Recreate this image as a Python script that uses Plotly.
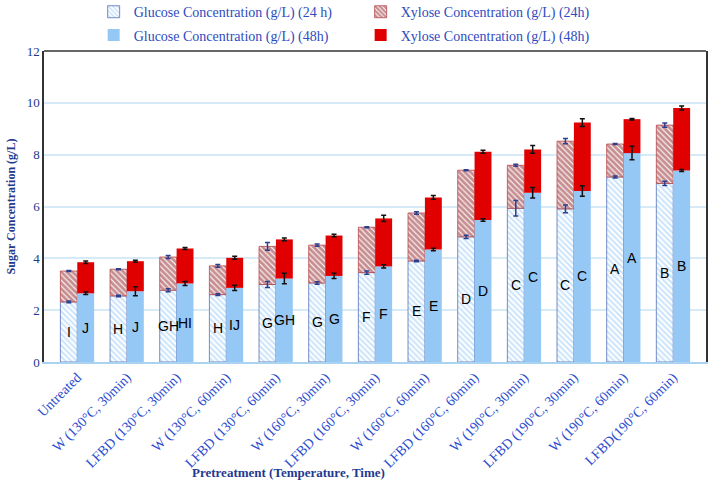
import plotly.graph_objects as go

categories = ["Untreated", "W (130°C, 30min)", "LFBD (130°C, 30min)", "W (130°C, 60min)",
              "LFBD (130°C, 60min)", "W (160°C, 30min)", "LFBD (160°C, 30min)", "W (160°C, 60min)",
              "LFBD (160°C, 60min)", "W (190°C, 30min)", "LFBD (190°C, 30min)", "W (190°C, 60min)",
              "LFBD(190°C, 60min)"]

glucose_24 = [2.32, 2.55, 2.77, 2.60, 2.99, 3.05, 3.45, 3.90, 4.83, 5.93, 5.91, 7.14, 6.89]
total_24 = [3.51, 3.58, 4.05, 3.71, 4.46, 4.51, 5.20, 5.75, 7.40, 7.59, 8.52, 8.41, 9.14]
glucose_48 = [2.65, 2.73, 3.03, 2.86, 3.22, 3.32, 3.69, 4.34, 5.48, 6.53, 6.60, 8.06, 7.39]
total_48 = [3.85, 3.89, 4.38, 4.02, 4.73, 4.88, 5.54, 6.35, 8.11, 8.20, 9.24, 9.37, 9.80]

glucose_24_err = [0.03, 0.03, 0.06, 0.03, 0.12, 0.05, 0.06, 0.03, 0.06, 0.30, 0.15, 0.04, 0.08]
total_24_err = [0.02, 0.02, 0.06, 0.05, 0.15, 0.04, 0.02, 0.05, 0.02, 0.04, 0.10, 0.02, 0.08]
glucose_48_err = [0.05, 0.17, 0.08, 0.10, 0.20, 0.10, 0.06, 0.05, 0.05, 0.20, 0.20, 0.26, 0.04]
total_48_err = [0.05, 0.04, 0.04, 0.06, 0.05, 0.05, 0.12, 0.07, 0.06, 0.15, 0.15, 0.03, 0.08]

letters_24 = ["I", "H", "GH", "H", "G", "G", "F", "E", "D", "C", "C", "A", "B"]
letters_48 = ["J", "J", "HI", "IJ", "GH", "G", "F", "E", "D", "C", "C", "A", "B"]

xylose_24 = [t - g for t, g in zip(total_24, glucose_24)]
xylose_48 = [t - g for t, g in zip(total_48, glucose_48)]

idx = list(range(len(categories)))
BW = 0.34
x24 = [i - BW / 2 for i in idx]
x48 = [i + BW / 2 for i in idx]

LBLUE = "#95c8f5"
RED = "#e00000"
DRED = "#8e1c21"
SERIF = "Liberation Serif, Times New Roman, serif"

fig = go.Figure()
fig.add_trace(go.Bar(
    x=idx, y=glucose_24, width=BW, offset=-BW, name="Glucose Concentration (g/L) (24 h)",
    legend="legend",
    marker=dict(color="white", line=dict(color="#5470b8", width=0.8),
                pattern=dict(shape="\\", fgcolor=LBLUE, bgcolor="white", size=4, solidity=0.5)),
))
fig.add_trace(go.Bar(
    x=idx, y=xylose_24, base=glucose_24, width=BW, offset=-BW, name="Xylose Concentration (g/L) (24h)",
    legend="legend",
    marker=dict(color="white", line=dict(color="#b8474a", width=0.8),
                pattern=dict(shape="\\", fgcolor=DRED, bgcolor="white", size=4, solidity=0.72)),
))
fig.add_trace(go.Bar(
    x=idx, y=glucose_48, width=BW, offset=0, name="Glucose Concentration (g/L) (48h)",
    legend="legend2",
    marker=dict(color=LBLUE, line=dict(width=0)),
))
fig.add_trace(go.Bar(
    x=idx, y=xylose_48, base=glucose_48, width=BW, offset=0, name="Xylose Concentration (g/L) (48h)",
    legend="legend2",
    marker=dict(color=RED, line=dict(width=0)),
))

# error bars
for xs, ys, es, col in [(x24, glucose_24, glucose_24_err, "#2b3f8f"),
                        (x24, total_24, total_24_err, "#2b3f8f"),
                        (x48, glucose_48, glucose_48_err, "#111111"),
                        (x48, total_48, total_48_err, "#111111")]:
    fig.add_trace(go.Scatter(
        x=xs, y=ys, mode="markers", marker=dict(size=0.1, color=col), showlegend=False,
        hoverinfo="skip",
        error_y=dict(type="data", array=es, visible=True, color=col, thickness=1.5, width=2.5),
    ))

# letters
for xs, gs, ls in [(x24, glucose_24, letters_24), (x48, glucose_48, letters_48)]:
    for xv, g, l in zip(xs, gs, ls):
        fig.add_annotation(x=xv, y=g / 2, text=l, showarrow=False,
                           font=dict(family="Liberation Sans, Arial", size=14, color="black"))

fig.add_annotation(x=0.37, y=-0.355, xref="paper", yref="paper", yanchor="middle",
                   text="<b>Pretreatment (Temperature, Time)</b>", showarrow=False,
                   font=dict(family=SERIF, size=13, color="#1f3a8f"))

fig.add_shape(type="line", xref="paper", yref="paper", x0=0, x1=1, y0=1, y1=1,
              line=dict(color="#333333", width=1.5))

legend_common = dict(orientation="h", xanchor="left", yanchor="middle",
                     entrywidth=222, entrywidthmode="pixels", traceorder="normal",
                     font=dict(family=SERIF, size=14, color="#2e4bc0"),
                     itemwidth=30, bgcolor="rgba(0,0,0,0)")

fig.update_layout(
    width=709, height=480,
    margin=dict(l=44, r=3, t=51, b=118, autoexpand=False),
    paper_bgcolor="white", plot_bgcolor="white",
    barmode="overlay",
    showlegend=True,
    legend=dict(x=0.075, y=1.125, **legend_common),
    legend2=dict(x=0.075, y=1.05, **legend_common),
    xaxis=dict(range=[-0.67, 12.66], tickmode="array", tickvals=idx, ticktext=categories,
               tickangle=-45, tickfont=dict(family=SERIF, size=14, color="#2a4bd0"),
               showgrid=False, showline=True, linecolor="#a9d3f0", linewidth=1.5,
               ticks="", zeroline=False),
    yaxis=dict(range=[0, 12], dtick=2, showgrid=True, gridcolor="#d6eaf8", gridwidth=1.5,
               tickfont=dict(family=SERIF, size=13, color="#23398a"),
               showline=True, linecolor="#333333", linewidth=1.5, mirror=True,
               zeroline=False, ticks="",
               title=dict(text="<b>Sugar Concentration (g/L)</b>", standoff=8,
                          font=dict(family=SERIF, size=12, color="#1f3a8f"))),
)

fig.write_html("out.html", config={"displayModeBar": False},
               post_script="document.body.style.margin='0';")
